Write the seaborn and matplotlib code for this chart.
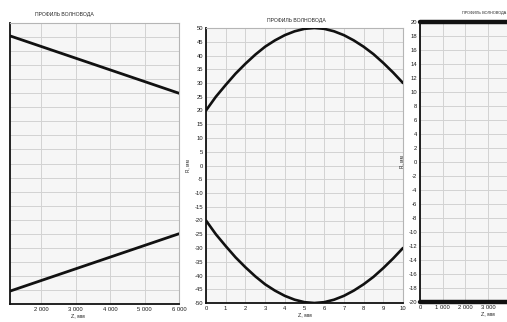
"""
Три фрагмента окна «Профиль волновода»: линейный, синусоидальный и постоянный профиль.
"""
import numpy as np
import pandas as pd
import matplotlib
matplotlib.use("Agg")
import matplotlib.pyplot as plt
import seaborn as sns

sns.set_style("whitegrid")
plt.rcParams['font.family'] = ['Liberation Sans Narrow', 'Liberation Sans', 'DejaVu Sans']
plt.rcParams['axes.unicode_minus'] = False

# ── data ─────────────────────────────────────────────────────────────────────
TITLE = "ПРОФИЛЬ ВОЛНОВОДА"
XLABEL = "Z, мм"
YLABEL = "R, мм"

# left panel: linear taper
lin_z = [0, 6000]
lin_top = [50, 25]
lin_bot = [-50, -25]
lin_xticks = [2000, 3000, 4000, 5000, 6000]
lin_xticklabels = ["2 000", "3 000", "4 000", "5 000", "6 000"]

# middle panel: curved profile
sin_z = [0, 0.5, 1, 1.5, 2, 2.5, 3, 3.5, 4, 4.5, 5, 5.5, 6, 6.5, 7, 7.5, 8, 8.5, 9, 9.5, 10]
sin_top = [20, 25, 29.3, 33.4, 37, 40.3, 43.2, 45.5, 47.4, 48.8, 49.7, 50, 49.7, 48.8,
           47.4, 45.5, 43.2, 40.5, 37.3, 33.8, 30]
sin_bot = [-v for v in sin_top]
sin_xticks = list(range(0, 11))
sin_yticks = list(range(-50, 51, 5))

# right panel: constant radius
const_z = [0, 6000]
const_top = [20, 20]
const_bot = [-20, -20]
const_xticks = [0, 1000, 2000, 3000]
const_xticklabels = ["0", "1 000", "2 000", "3 000"]
const_yticks = list(range(-20, 21, 2))

# ── figure ───────────────────────────────────────────────────────────────────
W, H = 507, 322
fig = plt.figure(figsize=(W / 100, H / 100), dpi=100)
fig.patch.set_facecolor('white')


def px_axes(x0, x1, ytop, ybot):
    return fig.add_axes([x0 / W, (H - ybot) / H, (x1 - x0) / W, (ybot - ytop) / H])


def style(ax):
    ax.set_facecolor('#f6f6f6')
    ax.grid(True, color='#d2d2d2', linewidth=0.7)
    ax.tick_params(length=0, labelsize=4.2, pad=2, colors='#1a1a1a')
    for side in ['top', 'right']:
        ax.spines[side].set_color('#b5b5b5')
        ax.spines[side].set_linewidth(0.8)
    for side in ['left', 'bottom']:
        ax.spines[side].set_color('#111111')
        ax.spines[side].set_linewidth(1.3)


def draw(ax, z, top, bot, lw):
    df = pd.DataFrame({'z': z + z, 'r': top + bot,
                       'edge': ['top'] * len(z) + ['bot'] * len(z)})
    sns.lineplot(data=df, x='z', y='r', units='edge', estimator=None,
                 color='#111111', linewidth=lw, ax=ax, legend=False, sort=False)
    for ln in ax.lines:
        ln.set_zorder(3)   # above the grey top spine
    ax.set_xlabel('')
    ax.set_ylabel('')


# left
ax1 = px_axes(10, 179, 23, 304)
style(ax1)
draw(ax1, lin_z, lin_top, lin_bot, 2.0)
ax1.set_xlim(1100, 6000)
ax1.set_ylim(-50, 50)
ax1.set_xticks(lin_xticks)
ax1.set_xticklabels(lin_xticklabels)
ax1.set_yticks(sin_yticks)
ax1.set_yticklabels([])
ax1.set_title(TITLE, fontsize=3.7, x=0.32, pad=5)
ax1.set_xlabel(XLABEL, fontsize=4.0, x=0.4, labelpad=1)

# middle
ax2 = px_axes(206, 403, 28, 303)
style(ax2)
draw(ax2, sin_z, sin_top, sin_bot, 1.9)
ax2.set_xlim(0, 10)
ax2.set_ylim(-50, 50)
ax2.set_xticks(sin_xticks)
ax2.set_yticks(sin_yticks)
ax2.set_title(TITLE, fontsize=3.7, x=0.46, pad=4)
ax2.set_xlabel(XLABEL, fontsize=4.0, labelpad=1)
ax2.set_ylabel(YLABEL, fontsize=3.4, labelpad=3)

# right
ax3 = px_axes(420, 556, 22, 302)
style(ax3)
draw(ax3, const_z, const_top, const_bot, 3.2)
for ln in ax3.lines:
    ln.set_clip_on(False)
ax3.set_xlim(0, 6000)
ax3.set_ylim(-20, 20)
ax3.set_xticks(const_xticks)
ax3.set_xticklabels(const_xticklabels)
ax3.set_yticks(const_yticks)
ax3.set_title(TITLE, fontsize=2.8, x=0.47, pad=6)
ax3.set_xlabel(XLABEL, fontsize=4.0, x=0.5, labelpad=1)
ax3.set_ylabel(YLABEL, fontsize=3.4, labelpad=3)

fig.savefig('out.png', dpi=100)
